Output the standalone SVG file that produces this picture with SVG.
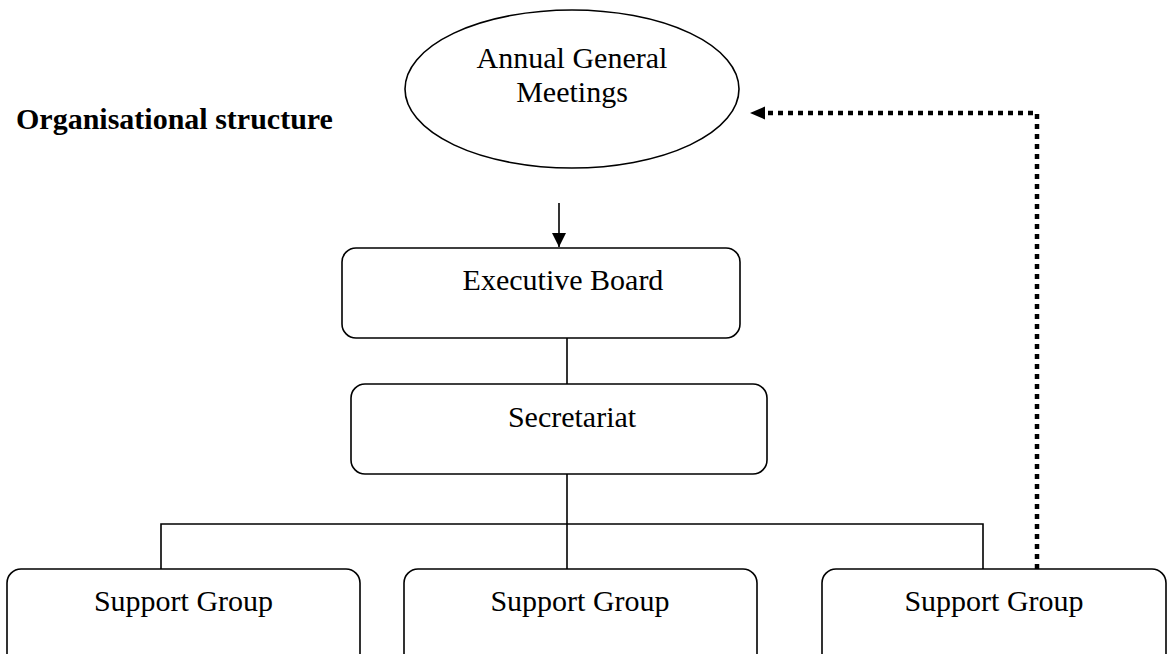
<svg xmlns="http://www.w3.org/2000/svg" width="1167" height="654" viewBox="0 0 1167 654">
<style>
text{font-family:"Liberation Serif","Times New Roman",serif;font-size:30px;fill:#000}
.t{text-anchor:middle}
.box{fill:#fff;stroke:#000;stroke-width:1.6}
.ln{fill:none;stroke:#000;stroke-width:1.6}
.dot{fill:none;stroke:#000;stroke-width:4.5;stroke-dasharray:5 5}
</style>
<defs>
<marker id="ah" viewBox="0 0 10 10" refX="10" refY="5" markerWidth="14" markerHeight="14" markerUnits="userSpaceOnUse" orient="auto"><path d="M0,0 L10,5 L0,10 Z" fill="#000"/></marker>
</defs>
<rect width="1167" height="654" fill="#fff"/>
<text id="title" x="16" y="129" style="font-weight:bold">Organisational structure</text>
<g id="connectors">
<line class="ln" x1="559" y1="203" x2="559" y2="247" marker-end="url(#ah)"/>
<line class="ln" x1="567" y1="338" x2="567" y2="384"/>
<line class="ln" x1="567" y1="474" x2="567" y2="569"/>
<polyline class="ln" points="161,569 161,524 983,524 983,569"/>
<polyline class="dot" points="1037,569 1037,113 766,113"/>
<path d="M750,113 L765,106.5 L765,119.5 Z" fill="#000"/>
</g>
<g id="agm">
<ellipse class="box" cx="572" cy="89" rx="167" ry="79"/>
<text class="t" x="572" y="68">Annual General</text>
<text class="t" x="572" y="102">Meetings</text>
</g>
<g id="exec">
<rect class="box" x="342" y="248" width="398" height="90" rx="14"/>
<text class="t" x="563" y="290">Executive Board</text>
</g>
<g id="sec">
<rect class="box" x="351" y="384" width="416" height="90" rx="14"/>
<text class="t" x="572" y="427">Secretariat</text>
</g>
<g id="sg1">
<rect class="box" x="7" y="569" width="353" height="100" rx="14"/>
<text class="t" x="183.5" y="611">Support Group</text>
</g>
<g id="sg2">
<rect class="box" x="404" y="569" width="353" height="100" rx="14"/>
<text class="t" x="580" y="611">Support Group</text>
</g>
<g id="sg3">
<rect class="box" x="822" y="569" width="344" height="100" rx="14"/>
<text class="t" x="994" y="611">Support Group</text>
</g>
</svg>
